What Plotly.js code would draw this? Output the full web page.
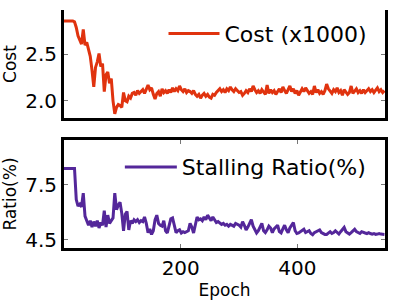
<!DOCTYPE html>
<html>
<head>
<meta charset="utf-8">
<script src="https://cdn.plot.ly/plotly-3.0.1.min.js"></script>
<style>html,body{margin:0;padding:0;background:#fff;}#chart{width:400px;height:300px;}</style>
</head>
<body>
<div id="chart"></div>
<script>
const epochs = [
  0,3,6,9,12,15,18,21,24,27,30,33,36,39,42,45,48,51,54,57,
  60,63,66,69,72,75,78,81,84,87,90,93,96,99,102,105,108,111,114,117,
  120,123,126,129,132,135,138,141,144,147,150,153,156,159,162,165,168,171,174,177,
  180,183,186,189,192,195,198,201,204,207,210,213,216,219,222,225,228,231,234,237,
  240,243,246,249,252,255,258,261,264,267,270,273,276,279,282,285,288,291,294,297,
  300,303,306,309,312,315,318,321,324,327,330,333,336,339,342,345,348,351,354,357,
  360,363,366,369,372,375,378,381,384,387,390,393,396,399,402,405,408,411,414,417,
  420,423,426,429,432,435,438,441,444,447,450,453,456,459,462,465,468,471,474,477,
  480,483,486,489,492,495,498,501,504,507,510,513,516,519,522,525,528,531,534,537,
  540,543,546,549
];
const cost = [
  2.86,2.86,2.86,2.86,2.86,2.86,2.85,2.79,2.70,2.66,2.61,2.77,2.60,2.63,2.55,2.48,2.33,2.15,2.36,2.42,
  2.51,2.37,2.40,2.10,2.28,2.31,2.19,2.24,2.00,1.86,1.93,1.96,1.95,1.93,2.09,2.00,1.99,2.05,2.03,2.08,
  2.09,2.06,2.11,2.08,2.10,2.12,2.08,2.13,2.17,2.12,2.14,2.07,2.02,2.08,2.10,2.05,2.13,2.09,2.11,2.08,
  2.12,2.09,2.14,2.10,2.13,2.11,2.16,2.12,2.10,2.13,2.09,2.11,2.10,2.08,2.11,2.07,2.05,2.07,2.03,2.06,
  2.08,2.05,2.07,2.04,2.03,2.07,2.06,2.09,2.11,2.13,2.10,2.12,2.09,2.13,2.11,2.15,2.12,2.10,2.13,2.11,
  2.09,2.10,2.06,2.08,2.11,2.09,2.13,2.10,2.16,2.12,2.09,2.11,2.08,2.12,2.10,2.07,2.17,2.08,2.12,2.09,
  2.11,2.07,2.10,2.13,2.09,2.15,2.11,2.08,2.12,2.16,2.10,2.13,2.08,2.11,2.06,2.09,2.13,2.10,2.14,2.11,
  2.08,2.10,2.07,2.16,2.09,2.12,2.08,2.10,2.07,2.11,2.18,2.13,2.10,2.08,2.12,2.10,2.14,2.09,2.11,2.06,
  2.12,2.10,2.07,2.09,2.16,2.08,2.10,2.13,2.09,2.11,2.08,2.12,2.09,2.11,2.13,2.10,2.12,2.09,2.11,2.14,
  2.10,2.12,2.09,2.11
];
const ratio = [
  8.40,8.40,8.40,8.40,8.40,8.40,8.40,6.70,6.35,6.45,6.30,7.05,5.80,5.55,5.30,5.55,5.20,5.50,5.25,5.55,
  5.15,5.45,5.30,6.10,5.20,5.85,5.40,5.55,5.70,7.05,6.15,6.40,6.55,5.95,5.00,5.90,6.05,5.05,5.55,5.40,
  5.60,5.50,5.60,5.45,5.55,5.50,5.75,5.40,4.90,5.10,4.80,5.00,5.60,5.85,5.40,5.30,5.25,5.55,5.00,4.88,
  5.30,5.65,5.70,5.30,4.90,5.00,5.05,4.88,4.95,4.90,4.95,5.00,5.40,5.20,4.88,5.40,5.75,5.60,5.65,5.55,
  5.75,5.60,5.85,5.70,5.55,5.75,5.60,5.45,5.50,5.40,5.35,5.40,5.30,5.35,5.25,5.35,5.30,5.25,5.40,5.35,
  5.30,5.20,5.50,5.30,5.05,5.20,5.45,5.60,5.25,5.10,4.88,5.00,5.20,5.40,5.00,4.90,5.05,5.25,5.15,4.90,
  5.10,5.20,5.30,4.95,4.88,5.10,5.30,5.05,4.90,5.15,5.30,5.45,5.00,4.85,4.88,4.95,5.00,5.08,4.90,4.95,
  5.00,4.85,4.78,4.90,4.95,5.00,5.05,4.90,4.85,4.80,4.80,4.90,4.95,4.85,4.90,5.00,4.88,4.82,4.95,5.10,
  5.18,4.95,4.88,4.82,4.90,5.00,5.08,4.95,4.90,4.85,4.95,4.90,4.88,4.85,4.90,4.85,4.82,4.85,4.80,4.82,
  4.85,4.82,4.80,4.80
];
const costTicks = [2.0, 2.5];
const ratioTicks = [4.5, 7.5];
const epochTicks = [200, 400];

const FONT = 'DejaVu Sans, sans-serif';
const traces = [
  {x: epochs, y: cost, type: 'scatter', mode: 'lines', name: 'Cost (x1000)',
   line: {color: '#e0330f', width: 3}, xaxis: 'x', yaxis: 'y', legend: 'legend'},
  {x: epochs, y: ratio, type: 'scatter', mode: 'lines', name: 'Stalling Ratio(%)',
   line: {color: '#54279a', width: 3}, xaxis: 'x2', yaxis: 'y2', legend: 'legend2'}
];
const tickStyle = {ticks: 'inside', ticklen: 4, tickwidth: 1, tickcolor: '#777', mirror: 'ticks'};
const layout = {
  width: 400, height: 300,
  margin: {l: 64, r: 15, t: 10, b: 52},
  paper_bgcolor: '#fff', plot_bgcolor: '#fff',
  font: {family: FONT, color: '#000', size: 20},
  showlegend: true,
  xaxis: {domain: [0, 1], range: [0, 550], anchor: 'y', showticklabels: false, ticks: '',
          showgrid: false, zeroline: false, showline: true, linecolor: '#000', linewidth: 3, matches: 'x2'},
  yaxis: Object.assign({domain: [0.546, 1], range: [1.815, 2.978], anchor: 'x', tickvals: costTicks,
          ticktext: costTicks.map(v => v.toFixed(1)),
          showgrid: false, zeroline: false, showline: true, linecolor: '#000', linewidth: 3,
          tickfont: {size: 20}, title: {text: 'Cost', font: {size: 17}, standoff: 6}}, tickStyle),
  xaxis2: Object.assign({domain: [0, 1], range: [0, 550], anchor: 'y2', tickvals: epochTicks,
          showgrid: false, zeroline: false, showline: true, linecolor: '#000', linewidth: 3,
          tickfont: {size: 20}, title: {text: 'Epoch', font: {size: 17}, standoff: 4}}, tickStyle),
  yaxis2: Object.assign({domain: [0, 0.4538], range: [4.06, 9.95], anchor: 'x2', tickvals: ratioTicks,
          ticktext: ratioTicks.map(v => v.toFixed(1)),
          showgrid: false, zeroline: false, showline: true, linecolor: '#000', linewidth: 3,
          tickfont: {size: 20}, title: {text: 'Ratio(%)', font: {size: 17}, standoff: 6}}, tickStyle),
  legend: {x: 0.31, y: 0.9, xanchor: 'left', yanchor: 'middle', bgcolor: 'rgba(0,0,0,0)',
           borderwidth: 0, font: {size: 22}, itemwidth: 51},
  legend2: {x: 0.174, y: 0.34, xanchor: 'left', yanchor: 'middle', bgcolor: 'rgba(0,0,0,0)',
           borderwidth: 0, font: {size: 22}, itemwidth: 52}
};
Plotly.newPlot('chart', traces, layout, {staticPlot: true, displayModeBar: false});
</script>
</body>
</html>
